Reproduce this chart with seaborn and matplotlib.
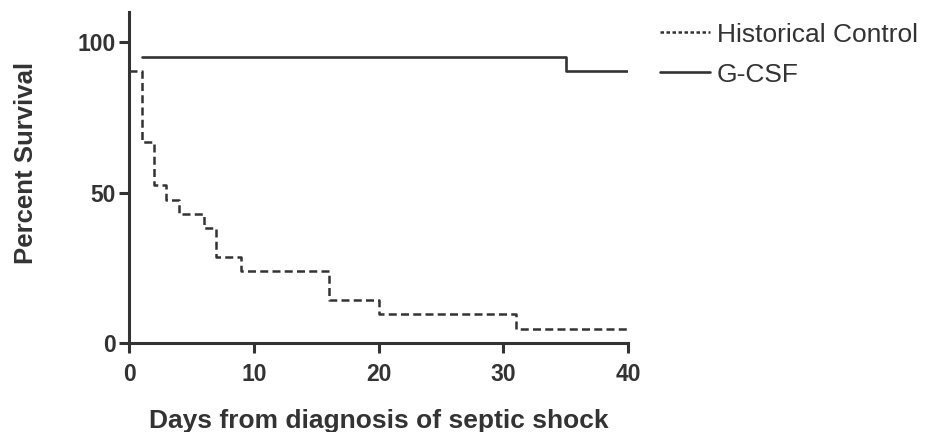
import pandas as pd
import numpy as np
import matplotlib
matplotlib.use('Agg')
import matplotlib.pyplot as plt
import seaborn as sns
from matplotlib.lines import Line2D

# Kaplan-Meier style survival data
hist_days = [0, 1, 2, 3, 4, 6, 7, 9, 16, 20, 31, 40]
hist_surv = [90.5, 66.7, 52.4, 47.6, 42.9, 38.1, 28.6, 23.8, 14.3, 9.5, 4.8, 4.8]
gcsf_days = [1, 35, 40]
gcsf_surv = [95.2, 90.5, 90.5]
x_ticks = [0, 10, 20, 30, 40]
y_ticks = [0, 50, 100]

sns.set_style('ticks')
plt.rcParams['font.family'] = ['Liberation Sans', 'DejaVu Sans']
ink = '#333333'

df_hist = pd.DataFrame({'day': hist_days, 'surv': hist_surv})
df_gcsf = pd.DataFrame({'day': gcsf_days, 'surv': gcsf_surv})

fig = plt.figure(figsize=(9.25, 4.32), dpi=100)
ax = fig.add_axes([0.1395, 0.206, 0.5395, 0.766])

sns.lineplot(data=df_hist, x='day', y='surv', ax=ax, estimator=None, color=ink,
             drawstyle='steps-post', linewidth=1.8, linestyle=(0, (3.2, 1.7)))
sns.lineplot(data=df_gcsf, x='day', y='surv', ax=ax, estimator=None, color=ink,
             drawstyle='steps-post', linewidth=1.9)

ax.set_xlim(0, 40)
ax.set_ylim(0, 110)
ax.set_xticks(x_ticks)
ax.set_yticks(y_ticks)
sns.despine(ax=ax)
for s in ['left', 'bottom']:
    ax.spines[s].set_linewidth(2.2)
    ax.spines[s].set_color(ink)
    ax.spines[s].set_clip_on(False)
ax.tick_params(axis='both', length=7.5, width=2.2, color=ink, labelsize=16.5, labelcolor=ink)
ax.tick_params(axis='x', pad=7)
ax.tick_params(axis='y', pad=2)
for lab in ax.get_xticklabels() + ax.get_yticklabels():
    lab.set_fontweight('bold')

ax.set_xlabel('Days from diagnosis of septic shock', fontsize=19, fontweight='bold', color=ink)
ax.set_ylabel('Percent Survival', fontsize=18.5, fontweight='bold', color=ink)
ax.xaxis.set_label_coords(0.5, -0.199)
ax.yaxis.set_label_coords(-0.182, 0.544)

handles = [Line2D([], [], color=ink, linewidth=1.8, linestyle=(0, (1.4, 1.0))),
           Line2D([], [], color=ink, linewidth=1.9)]
leg = ax.legend(handles, ['Historical Control', 'G-CSF'], loc='upper left',
                bbox_to_anchor=(1.063, 0.968), frameon=False, fontsize=19,
                handlelength=1.9, handletextpad=0.27, labelspacing=0.6,
                borderaxespad=0, borderpad=0)
for t in leg.get_texts():
    t.set_color(ink)

plt.savefig('out.png', dpi=100)
